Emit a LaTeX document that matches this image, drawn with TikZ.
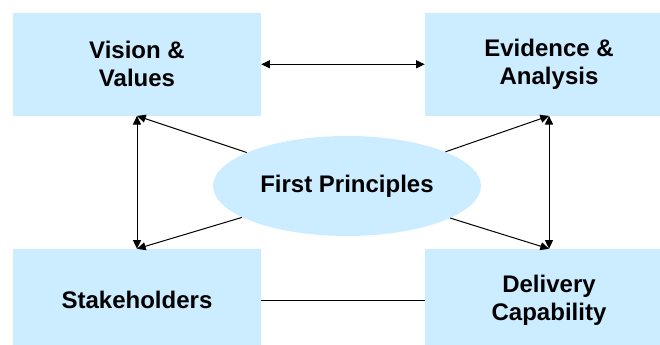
\documentclass[tikz,border=0pt]{standalone}
\usepackage{fontspec}
\setmainfont{Liberation Sans}
\usepackage{tikz}
\usetikzlibrary{shapes.geometric, arrows.meta, positioning}
\definecolor{paleblue}{RGB}{204,236,255}

\begin{document}
\begin{tikzpicture}[x=0.75pt, y=0.75pt,
  box/.style={fill=paleblue, minimum width=186pt, minimum height=77pt, inner sep=0pt, align=center,
    font=\fontsize{18}{21}\selectfont\bfseries},
  hub/.style={ellipse, fill=paleblue, minimum width=201pt, minimum height=75pt, inner sep=0pt,
    font=\fontsize{18}{21}\selectfont\bfseries},
  link/.style={line width=0.75pt, {Triangle[length=6.5pt,width=6pt]}-{Triangle[length=6.5pt,width=6pt]}},
  ray/.style={line width=0.75pt, -{Triangle[length=6.5pt,width=6pt]}}]
\useasboundingbox (0,0) rectangle (660,345);
\clip (0,0) rectangle (660,345);
\node[box] (vv) at (137,280.7) {Vision \&\\Values};
\node[box] (ea) at (549,280.7) {Evidence \&\\Analysis};
\node[box] (sh) at (137,44.6) {Stakeholders};
\node[box] (dc) at (549,44.6) {Delivery\\Capability};
\node[hub] (fp) at (347,159) {First Principles};
\draw[link] (vv.east) -- (ea.west);
\draw[link] (vv.south) -- (sh.north);
\draw[link] (ea.south) -- (dc.north);
\draw[line width=0.75pt] (sh.east) -- (dc.west);
\draw[ray] (fp) -- (vv.south);
\draw[ray] (fp) -- (sh.north);
\draw[ray] (fp) -- (ea.south);
\draw[ray] (fp) -- (dc.north);
\end{tikzpicture}
\end{document}
